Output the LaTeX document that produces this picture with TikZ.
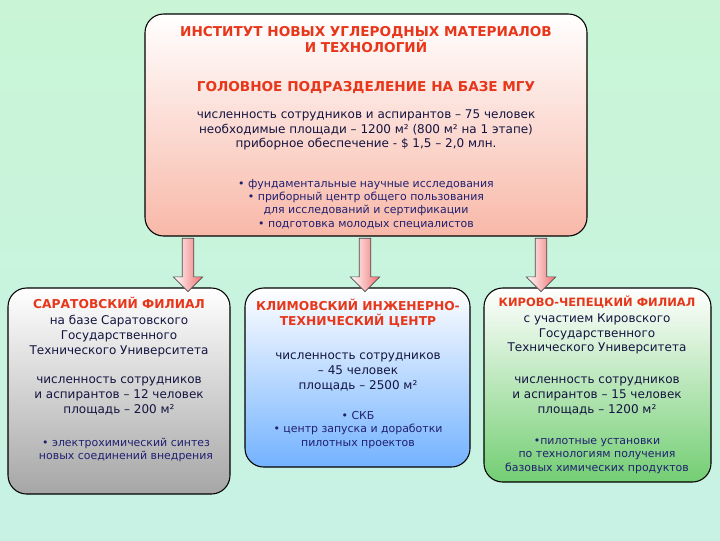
\documentclass[tikz,border=0pt]{standalone}
\usepackage{fontspec}
\setmainfont{DejaVu Sans}
\usetikzlibrary{shapes.arrows,shadows}
\definecolor{bgtop}{HTML}{C9F5D6}
\definecolor{bgbot}{HTML}{C8F2E4}
\definecolor{ttl}{HTML}{E8361A}
\definecolor{txt}{HTML}{141440}
\definecolor{blt}{HTML}{202070}
\definecolor{salmon}{HTML}{F8B8A8}
\definecolor{arr}{HTML}{F07070}
\tikzset{
 boxs/.style={draw=black,line width=0.8pt,rounded corners=14pt},
 ttlt/.style={text=ttl,font=\bfseries\fontsize{10.2}{12}\selectfont,align=center},
 subttl/.style={text=ttl,font=\bfseries\fontsize{9.2}{11.5}\selectfont,align=center},
 bodyt/.style={text=txt,font=\fontsize{9}{11}\selectfont,align=center},
 bult/.style={text=blt,font=\fontsize{8.2}{10}\selectfont,align=center},
 downarr/.style={single arrow,shape border rotate=270,draw=black!70,line width=0.5pt,
   minimum width=22pt,single arrow head extend=5pt,single arrow tip angle=90,
   minimum height=40pt,inner sep=3pt,left color=white,right color=arr,shading angle=90},
}
\begin{document}
\begin{tikzpicture}[x=0.75pt,y=-0.75pt]
\useasboundingbox (0,0) rectangle (720,540);
\shade[top color=bgtop,bottom color=bgbot] (0,0) rectangle (720,540);
% top box
\node[boxs,minimum width=331.5pt,minimum height=166.5pt,top color=white,bottom color=salmon] (top) at (366,125) {};
\node[ttlt] (t1) at (366,40) {ИНСТИТУТ НОВЫХ УГЛЕРОДНЫХ МАТЕРИАЛОВ\\И ТЕХНОЛОГИЙ};
\node[ttlt] (t2) at (366,88) {ГОЛОВНОЕ ПОДРАЗДЕЛЕНИЕ НА БАЗЕ МГУ};
\node[bodyt] (t3) at (366,130) {численность сотрудников и аспирантов – 75 человек\\необходимые площади – 1200 м² (800 м² на 1 этапе)\\приборное обеспечение - \$ 1,5 – 2,0 млн.};
\node[bult] (t4) at (366,204) {• фундаментальные научные исследования\\• приборный центр общего пользования\\для исследований и сертификации\\• подготовка молодых специалистов};
% boxes
\node[boxs,minimum width=166.5pt,minimum height=154.5pt,top color=white,bottom color=black!35] (L) at (119,391) {};
\node[boxs,minimum width=168.75pt,minimum height=134.25pt,top color=white,bottom color=cyan!45!blue!55] (M) at (357.5,377.5) {};
\node[boxs,minimum width=170.25pt,minimum height=145.5pt,top color=white,bottom color=green!65!black!55] (R) at (597.5,385) {};
% arrows
\node[downarr] (a1) at (188,262) {};
\node[downarr] (a2) at (365,262) {};
\node[downarr] (a3) at (541,262) {};
% left
\node[subttl] (l1) at (119,303) {САРАТОВСКИЙ ФИЛИАЛ};
\node[bodyt] (l2) at (119,336) {на базе Саратовского\\Государственного\\Технического Университета};
\node[bodyt] (l3) at (119,396) {численность сотрудников\\и аспирантов – 12 человек\\площадь – 200 м²};
\node[bult] (l4) at (126,450) {• электрохимический синтез\\новых соединений внедрения};
% middle
\node[subttl] (m1) at (358,313) {КЛИМОВСКИЙ ИНЖЕНЕРНО-\\ТЕХНИЧЕСКИЙ ЦЕНТР};
\node[bodyt] (m2) at (358,372) {численность сотрудников\\– 45 человек\\площадь – 2500 м²};
\node[bult] (m3) at (358,430) {• СКБ\\• центр запуска и доработки\\пилотных проектов};
% right
\node[subttl,font=\bfseries\fontsize{8.6}{11}\selectfont] (r1) at (597,302) {КИРОВО-ЧЕПЕЦКИЙ ФИЛИАЛ};
\node[bodyt] (r2) at (597,334) {с участием Кировского\\Государственного\\Технического Университета};
\node[bodyt] (r3) at (597,396) {численность сотрудников\\и аспирантов – 15 человек\\площадь – 1200 м²};
\node[bult] (r4) at (597,456) {•пилотные установки\\по технологиям получения\\базовых химических продуктов};
\end{tikzpicture}
\end{document}
